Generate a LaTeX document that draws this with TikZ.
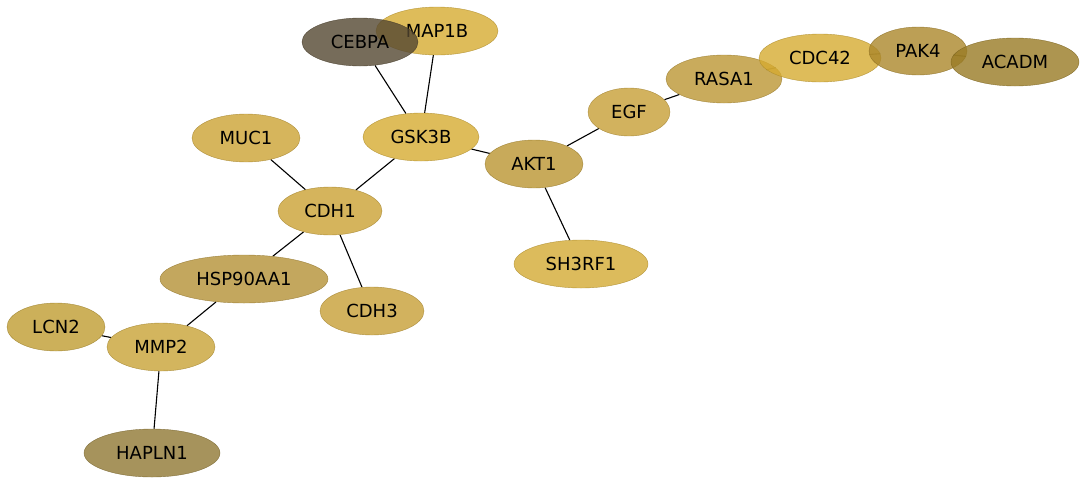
\documentclass[tikz,border=0pt]{standalone}
\usepackage{fontspec}
\setmainfont{DejaVu Sans}
\usetikzlibrary{shapes.geometric,backgrounds}

\definecolor{cYellow}{HTML}{D6AB31}
\definecolor{cMuc}{HTML}{CCA233}
\definecolor{cCdh}{HTML}{CAA133}
\definecolor{cAkt}{HTML}{BA9531}
\definecolor{cEgf}{HTML}{C79F36}
\definecolor{cRasa}{HTML}{BC9633}
\definecolor{cPak}{HTML}{AB872B}
\definecolor{cAcadm}{HTML}{997B24}
\definecolor{cSh}{HTML}{D3AA33}
\definecolor{cHsp}{HTML}{B49136}
\definecolor{cLcn}{HTML}{BF9C31}
\definecolor{cMmp}{HTML}{C8A336}
\definecolor{cHapln}{HTML}{907833}
\definecolor{cCebpa}{HTML}{544731}

\tikzset{
  gene/.style={ellipse, fill=#1, draw=#1!80!black, fill opacity=0.8,
    draw opacity=0.8, text opacity=1, minimum height=48pt, inner sep=0pt,
    font=\fontsize{18}{20}\selectfont},
  link/.style={draw=black, line width=1.1pt}
}

\begin{document}
\begin{tikzpicture}[x=1pt,y=-1pt]
    \useasboundingbox (0,0) rectangle (1086,485);
    %% Draw the nodes
    \node[gene=cYellow, minimum width=122pt] (MAP1B) at (437,31) {MAP1B};
    \node[gene=cCebpa, minimum width=116pt] (CEBPA) at (360,42) {CEBPA};
    \node[gene=cYellow, minimum width=116pt] (GSK3B) at (421,137) {GSK3B};
    \node[gene=cMuc, minimum width=108pt] (MUC1) at (246,138) {MUC1};
    \node[gene=cCdh, minimum width=104pt] (CDH1) at (330,211) {CDH1};
    \node[gene=cAkt, minimum width=98pt] (AKT1) at (534,164) {AKT1};
    \node[gene=cEgf, minimum width=82pt] (EGF) at (629,112) {EGF};
    \node[gene=cRasa, minimum width=116pt] (RASA1) at (724,79) {RASA1};
    \node[gene=cYellow, minimum width=122pt] (CDC42) at (820,58) {CDC42};
    \node[gene=cPak, minimum width=98pt] (PAK4) at (918,51) {PAK4};
    \node[gene=cAcadm, minimum width=128pt] (ACADM) at (1015,62) {ACADM};
    \node[gene=cSh, minimum width=134pt] (SH3RF1) at (581,264) {SH3RF1};
    \node[gene=cHsp, minimum width=168pt] (HSP90AA1) at (244,279) {HSP90AA1};
    \node[gene=cEgf, minimum width=104pt] (CDH3) at (372,311) {CDH3};
    \node[gene=cLcn, minimum width=98pt] (LCN2) at (56,327) {LCN2};
    \node[gene=cMmp, minimum width=108pt] (MMP2) at (161,347) {MMP2};
    \node[gene=cHapln, minimum width=136pt] (HAPLN1) at (152,453) {HAPLN1};
    %% Draw the edges
    \begin{scope}[on background layer, every path/.style={link}]
      \draw (CEBPA) -- (GSK3B);
      \draw (MAP1B) -- (GSK3B);
      \draw (GSK3B) -- (CDH1);
      \draw (GSK3B) -- (AKT1);
      \draw (MUC1) -- (CDH1);
      \draw (CDH1) -- (HSP90AA1);
      \draw (CDH1) -- (CDH3);
      \draw (HSP90AA1) -- (MMP2);
      \draw (LCN2) -- (MMP2);
      \draw (MMP2) -- (HAPLN1);
      \draw (AKT1) -- (EGF);
      \draw (AKT1) -- (SH3RF1);
      \draw (EGF) -- (RASA1);
      \draw (RASA1) -- (CDC42);
      \draw (CDC42) -- (PAK4);
      \draw (PAK4) -- (ACADM);
    \end{scope}
\end{tikzpicture}
\end{document}
